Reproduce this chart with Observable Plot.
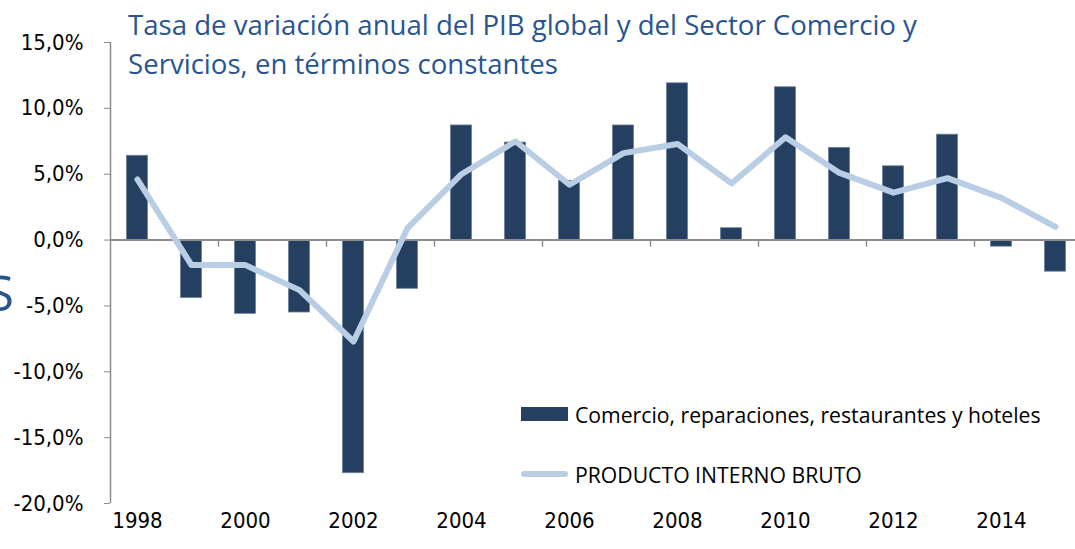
<!DOCTYPE html>
<html>
<head>
<meta charset="utf-8">
<script src="https://cdn.jsdelivr.net/npm/d3@7"></script>
<script src="https://cdn.jsdelivr.net/npm/@observablehq/plot@0.6"></script>
<style>
  html, body { margin: 0; padding: 0; background: #fff; }
  #wrap { position: relative; width: 1075px; height: 549px; overflow: hidden; background: #fff; }
  #title { position: absolute; left: 128px; top: 5px; font-family: "Open Sans", sans-serif; font-size: 27.6px; line-height: 39px; color: #285590; white-space: nowrap; }
  #stray { position: absolute; left: -13px; top: 268px; font-family: "Open Sans", sans-serif; font-size: 49px; line-height: 1; color: #285590; }
  .leg { position: absolute; left: 521px; display: flex; align-items: center; font-family: "Open Sans", sans-serif; font-size: 21.2px; color: #000; white-space: nowrap; height: 30px; }
  .sw-bar { width: 47px; height: 14px; background: #243F60; margin-right: 7px; }
  .sw-line { width: 47px; height: 6px; border-radius: 3px; background: #B9CDE5; margin-right: 7px; }
</style>
</head>
<body>
<div id="wrap">
  <div id="chart"></div>
  <div id="stray">S</div>
  <div id="title"></div>
  <div class="leg" id="leg1" style="top:399px"><div class="sw-bar"></div><span></span></div>
  <div class="leg" id="leg2" style="top:459px"><div class="sw-line"></div><span></span></div>
</div>
<script>
const titleLines = ["Tasa de variación anual del PIB global y del Sector Comercio y", "Servicios, en términos constantes"];
const seriesNames = ["Comercio, reparaciones, restaurantes y hoteles", "PRODUCTO INTERNO BRUTO"];
const years = [1998, 1999, 2000, 2001, 2002, 2003, 2004, 2005, 2006, 2007, 2008, 2009, 2010, 2011, 2012, 2013, 2014, 2015];
const comercio = [6.4, -4.4, -5.6, -5.5, -17.7, -3.7, 8.7, 7.4, 4.5, 8.7, 11.9, 0.9, 11.6, 7.0, 5.6, 8.0, -0.5, -2.4];
const pib = [4.6, -1.9, -1.9, -3.8, -7.7, 0.9, 5.0, 7.5, 4.2, 6.6, 7.3, 4.3, 7.8, 5.1, 3.6, 4.7, 3.2, 1.0];
const yTicks = [-20, -15, -10, -5, 0, 5, 10, 15];
const xLabelYears = [1998, 2000, 2002, 2004, 2006, 2008, 2010, 2012, 2014];
const xTickMarks = [1999.5, 2001.5, 2003.5, 2005.5, 2007.5, 2009.5, 2011.5, 2013.5, 2015.5];

const data = years.map((year, i) => ({year, comercio: comercio[i], pib: pib[i]}));

document.getElementById("title").innerHTML = titleLines.join("<br>");
document.querySelector("#leg1 span").textContent = seriesNames[0];
document.querySelector("#leg2 span").textContent = seriesNames[1];

const fmt = d => d.toFixed(1).replace(".", ",") + "%";

const chart = Plot.plot({
  width: 1075,
  height: 549,
  marginTop: 42,
  marginBottom: 46,
  marginLeft: 110,
  marginRight: -7,
  style: {fontFamily: '"DejaVu Sans Condensed", sans-serif', fontSize: "22px", color: "#000", background: "transparent", overflow: "visible"},
  x: {type: "linear", domain: [1997.5, 2015.5], label: null},
  y: {domain: [-20, 15], label: null},
  marks: [
    Plot.rect(data, {x1: d => d.year - 0.5, x2: d => d.year + 0.5, y1: 0, y2: "comercio", insetLeft: 16.5, insetRight: 16.5, fill: "#243F60", stroke: "#6d7f99", strokeWidth: 0.8}),
    Plot.ruleY([0], {stroke: "#8c8c8c", strokeWidth: 2}),
    Plot.ruleX(xTickMarks, {y1: 0, y2: 0, insetBottom: -7, stroke: "#8c8c8c", strokeWidth: 1.5}),
    Plot.ruleX([1997.5], {y1: -20, y2: 15, stroke: "#8c8c8c", strokeWidth: 1.5}),
    Plot.axisY({ticks: yTicks, tickFormat: fmt, tickSize: 6, tickPadding: 21, stroke: "#8c8c8c", fill: "#000", label: null}),
    Plot.axisX({ticks: xLabelYears, tickFormat: d => String(d), tickSize: 0, tickPadding: 9, fill: "#000", label: null}),
    Plot.line(data, {x: "year", y: "pib", stroke: "#B9CDE5", strokeWidth: 6, strokeLinejoin: "round", strokeLinecap: "round"})
  ]
});
document.getElementById("chart").appendChild(chart);
</script>
</body>
</html>
